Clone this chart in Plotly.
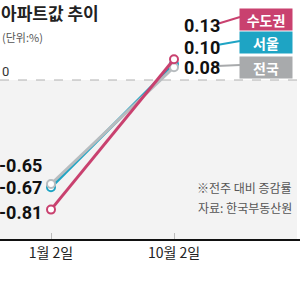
import plotly.graph_objects as go

dates = ["1월 2일", "10월 2일"]
series_names = ["서울", "전국", "수도권"]
seoul = [-0.67, 0.10]
national = [-0.65, 0.08]
capital = [-0.81, 0.13]
colors = {"수도권": "#c9416f", "서울": "#1ea4c4", "전국": "#b7bcbf"}
box_colors = {"수도권": "#c9416f", "서울": "#1ea4c4", "전국": "#a8aaac"}

W, H = 300, 298
PLOT_BOTTOM = 239  # px
X0_PX, X1_PX = 51, 174
ZERO_PX, SCALE = 80, 160.0

xr = [-X0_PX / (X1_PX - X0_PX), (W - X0_PX) / (X1_PX - X0_PX)]
yr = [-(PLOT_BOTTOM - ZERO_PX) / SCALE, ZERO_PX / SCALE]

def px(x):
    return x / W

def py(y):
    return (PLOT_BOTTOM - y) / PLOT_BOTTOM

NUMFONT = "Roboto, sans-serif"
KFONT = "Noto Sans CJK KR, sans-serif"

fig = go.Figure()
data = {"서울": seoul, "전국": national, "수도권": capital}
for name in series_names:
    fig.add_trace(go.Scatter(
        x=[0, 1], y=data[name], mode="lines+markers", name=name,
        line=dict(color=colors[name], width=3),
        marker=dict(symbol="circle", size=8, color="white",
                    line=dict(color=colors[name], width=2)),
        showlegend=False, hoverinfo="skip"))

shapes = [
    dict(type="rect", xref="paper", yref="y", x0=0, x1=px(297), y0=yr[0], y1=0,
         fillcolor="#f3f3f3", line=dict(width=0), layer="below"),
    dict(type="line", xref="paper", yref="y", x0=0, x1=px(297), y0=0, y1=0,
         line=dict(color="#b0b0b0", width=1, dash="dash"), layer="below"),
]

annotations = [
    dict(text="<b>아파트값 추이</b>", x=px(-1), y=py(12), xanchor="left", yanchor="middle",
         font=dict(family=KFONT, size=17, color="#222")),
    dict(text="(단위:%)", x=px(0), y=py(37), xanchor="left", yanchor="middle",
         font=dict(family=KFONT, size=11, color="#555")),
    dict(text="0", x=px(0), y=py(71), xanchor="left", yanchor="middle",
         font=dict(family=NUMFONT, size=13, color="#333")),
    dict(text="※전주 대비 증감률", x=px(294), y=py(187), xanchor="right", yanchor="middle",
         font=dict(family=KFONT, size=12, color="#555")),
    dict(text="자료: 한국부동산원", x=px(294), y=py(207), xanchor="right", yanchor="middle",
         font=dict(family=KFONT, size=12, color="#555")),
]

left_y = {"전국": 166, "서울": 187, "수도권": 212}
right_y = {"수도권": 26, "서울": 47, "전국": 68}
box_y = {"수도권": 19, "서울": 43, "전국": 67}
for name in series_names:
    v = data[name]
    annotations.append(dict(text="<b>%.2f</b>" % v[0], x=px(44), y=py(left_y[name]),
                            xanchor="right", yanchor="middle",
                            font=dict(family=NUMFONT, size=18, color="#111")))
    annotations.append(dict(text="<b>%.2f</b>" % v[1], x=px(182), y=py(right_y[name]),
                            xanchor="left", yanchor="middle",
                            font=dict(family=NUMFONT, size=18, color="#111")))
    annotations.append(dict(text="<b>%s</b>" % name, x=px(266), y=py(box_y[name]),
                            xanchor="center", yanchor="middle", width=52, height=21,
                            bgcolor=box_colors[name], borderpad=0,
                            font=dict(family=KFONT, size=14, color="white")))
    shapes.append(dict(type="line", xref="paper", yref="paper",
                       x0=px(217), y0=py(right_y[name] - 2), x1=px(240), y1=py(box_y[name] - 2),
                       line=dict(color=box_colors[name], width=2)))

for a in annotations:
    a.update(xref="paper", yref="paper", showarrow=False)

fig.update_layout(
    width=W, height=H, margin=dict(l=0, r=0, t=0, b=H - PLOT_BOTTOM),
    paper_bgcolor="white", plot_bgcolor="white",
    shapes=shapes, annotations=annotations,
    xaxis=dict(range=xr, tickvals=[0, 1], ticktext=dates, showgrid=False, zeroline=False,
               showline=True, linecolor="#111", linewidth=1.5,
               ticks="inside", ticklen=6, tickcolor="#bbb",
               tickfont=dict(family=KFONT, size=14, color="#222")),
    yaxis=dict(range=yr, visible=False, showgrid=False, zeroline=False),
)
fig.write_html("out.html")
